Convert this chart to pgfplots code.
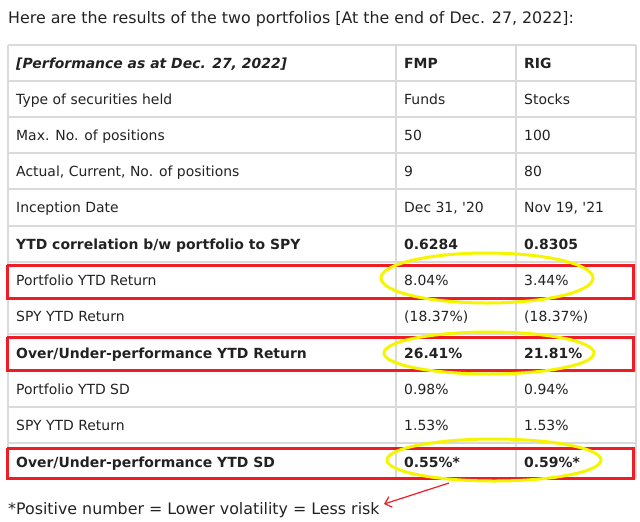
\documentclass[border=0pt]{standalone}
\usepackage{pgfplots}
\pgfplotsset{compat=1.18}
\usetikzlibrary{arrows.meta}
\usepackage{fontspec}
\setmainfont{DejaVu Sans}
\definecolor{gridgray}{HTML}{DADADA}
\definecolor{txt}{HTML}{222222}
\definecolor{hlred}{HTML}{EE1C25}
\definecolor{hlyel}{HTML}{F5F500}
\begin{document}
\begin{tikzpicture}
\begin{axis}[
  width=640bp, height=521bp, scale only axis,
  xmin=0, xmax=640, ymin=0, ymax=521, y dir=reverse,
  hide axis, clip=false,
]
% frame corners to keep the bounding box
\addplot[draw=none, forget plot] coordinates {(0,0) (640,521)};
% horizontal grid lines
\addplot[gridgray, line width=1.6bp, forget plot] coordinates {(8,45) (636,45)};
\addplot[gridgray, line width=1.6bp, forget plot] coordinates {(8,81) (636,81)};
\addplot[gridgray, line width=1.6bp, forget plot] coordinates {(8,117) (636,117)};
\addplot[gridgray, line width=1.6bp, forget plot] coordinates {(8,153) (636,153)};
\addplot[gridgray, line width=1.6bp, forget plot] coordinates {(8,189) (636,189)};
\addplot[gridgray, line width=1.6bp, forget plot] coordinates {(8,226) (636,226)};
\addplot[gridgray, line width=1.6bp, forget plot] coordinates {(8,262) (636,262)};
\addplot[gridgray, line width=1.6bp, forget plot] coordinates {(8,298) (636,298)};
\addplot[gridgray, line width=1.6bp, forget plot] coordinates {(8,334) (636,334)};
\addplot[gridgray, line width=1.6bp, forget plot] coordinates {(8,370) (636,370)};
\addplot[gridgray, line width=1.6bp, forget plot] coordinates {(8,407) (636,407)};
\addplot[gridgray, line width=1.6bp, forget plot] coordinates {(8,443) (636,443)};
\addplot[gridgray, line width=1.6bp, forget plot] coordinates {(8,479) (636,479)};
% vertical grid lines
\addplot[gridgray, line width=1.6bp, forget plot] coordinates {(8,45) (8,479)};
\addplot[gridgray, line width=1.6bp, forget plot] coordinates {(396,45) (396,479)};
\addplot[gridgray, line width=1.6bp, forget plot] coordinates {(516,45) (516,479)};
\addplot[gridgray, line width=1.6bp, forget plot] coordinates {(636,45) (636,479)};
% red highlight boxes
\addplot[hlred, line width=3bp, forget plot] coordinates {(7,265) (633,265) (633,298) (7,298) (7,265)};
\addplot[hlred, line width=3bp, forget plot] coordinates {(7,337) (633,337) (633,370) (7,370) (7,337)};
\addplot[hlred, line width=3bp, forget plot] coordinates {(7,448) (633,448) (633,478) (7,478) (7,448)};
% yellow ellipses
\draw[hlyel, line width=3bp] (axis cs:487,278) ellipse [x radius=106bp, y radius=25bp];
\draw[hlyel, line width=3bp] (axis cs:489,353) ellipse [x radius=105bp, y radius=21bp];
\draw[hlyel, line width=3bp] (axis cs:494,460) ellipse [x radius=107bp, y radius=21bp];
% arrow
\draw[hlred, line width=1.2bp, -{Straight Barb[length=6bp,width=11bp]}] (axis cs:449,483) -- (axis cs:384,504);
% text
\tikzset{t/.style={anchor=base west, text=txt, inner sep=0pt, font=\fontsize{14}{16}\selectfont},
         big/.style={anchor=base west, text=txt, inner sep=0pt, font=\fontsize{15.9}{18}\selectfont}}
\node[big] at (axis cs:8,24) {Here are the results of the two portfolios [At the end of Dec. 27, 2022]:};
\node[t] at (axis cs:16,68) {\textbf{\textit{[Performance as at Dec. 27, 2022]}}};
\node[t] at (axis cs:404,68) {\textbf{FMP}};
\node[t] at (axis cs:524,68) {\textbf{RIG}};
\node[t] at (axis cs:16,104) {Type of securities held};
\node[t] at (axis cs:404,104) {Funds};
\node[t] at (axis cs:524,104) {Stocks};
\node[t] at (axis cs:16,140) {Max. No. of positions};
\node[t] at (axis cs:404,140) {50};
\node[t] at (axis cs:524,140) {100};
\node[t] at (axis cs:16,176) {Actual, Current, No. of positions};
\node[t] at (axis cs:404,176) {9};
\node[t] at (axis cs:524,176) {80};
\node[t] at (axis cs:16,212) {Inception Date};
\node[t] at (axis cs:404,212) {Dec 31, \textquotesingle20};
\node[t] at (axis cs:524,212) {Nov 19, \textquotesingle21};
\node[t] at (axis cs:16,249) {\textbf{YTD correlation b/w portfolio to SPY}};
\node[t] at (axis cs:404,249) {\textbf{0.6284}};
\node[t] at (axis cs:524,249) {\textbf{0.8305}};
\node[t] at (axis cs:16,285) {Portfolio YTD Return};
\node[t] at (axis cs:404,285) {8.04\%};
\node[t] at (axis cs:524,285) {3.44\%};
\node[t] at (axis cs:16,321) {SPY YTD Return};
\node[t] at (axis cs:404,321) {(18.37\%)};
\node[t] at (axis cs:524,321) {(18.37\%)};
\node[t] at (axis cs:16,358) {\textbf{Over/Under-performance YTD Return}};
\node[t] at (axis cs:404,358) {\textbf{26.41\%}};
\node[t] at (axis cs:524,358) {\textbf{21.81\%}};
\node[t] at (axis cs:16,394) {Portfolio YTD SD};
\node[t] at (axis cs:404,394) {0.98\%};
\node[t] at (axis cs:524,394) {0.94\%};
\node[t] at (axis cs:16,430) {SPY YTD Return};
\node[t] at (axis cs:404,430) {1.53\%};
\node[t] at (axis cs:524,430) {1.53\%};
\node[t] at (axis cs:16,467) {\textbf{Over/Under-performance YTD SD}};
\node[t] at (axis cs:404,467) {\textbf{0.55\%*}};
\node[t] at (axis cs:524,467) {\textbf{0.59\%*}};
\node[big] at (axis cs:8,514) {*Positive number = Lower volatility = Less risk};
\end{axis}
\end{tikzpicture}
\end{document}
